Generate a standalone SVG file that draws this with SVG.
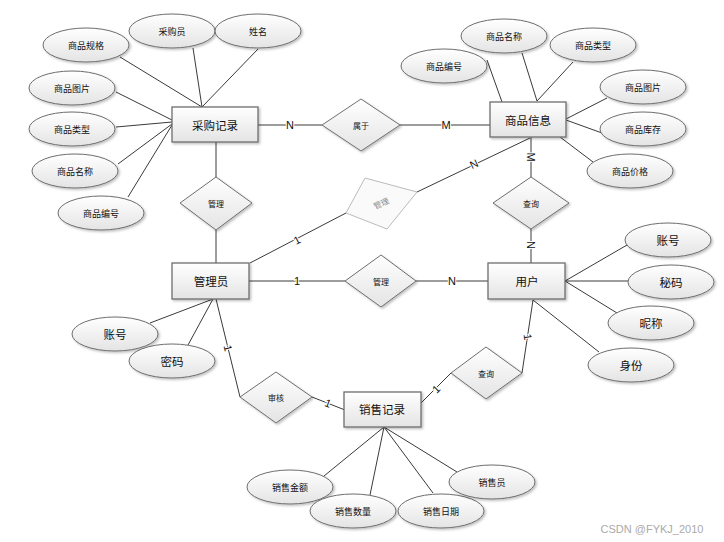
<svg xmlns="http://www.w3.org/2000/svg" width="724" height="542" viewBox="0 0 724 542">
<defs>
<linearGradient id="g" x1="0" y1="0" x2="0" y2="1"><stop offset="0" stop-color="#ffffff"/><stop offset="1" stop-color="#e4e4e4"/></linearGradient>
<filter id="sh" x="-10%" y="-10%" width="130%" height="140%"><feDropShadow dx="1.5" dy="1.5" stdDeviation="1" flood-color="#000" flood-opacity="0.25"/></filter>
</defs>
<style>
text{font-family:"Noto Sans CJK SC","Liberation Sans",sans-serif;fill:#111;text-anchor:middle;dominant-baseline:central}
.ent rect{fill:url(#g);stroke:#6e6e6e;stroke-width:1.3;filter:url(#sh)}
.ent text{font-size:11.5px}
.att ellipse{fill:url(#g);stroke:#6e6e6e;stroke-width:1;filter:url(#sh)}
.att text{font-size:9px}
.rel polygon{fill:url(#g);stroke:#6e6e6e;stroke-width:1;filter:url(#sh)}
.rel text{font-size:8px}
#conn line{stroke:#3a3a3a;stroke-width:1}
.lbl{font-size:11px;font-family:"Liberation Sans",sans-serif;paint-order:stroke;stroke:#fff;stroke-width:2}
.gray{stroke:#bbb!important;fill:#fafafa!important}
</style>
<rect width="724" height="542" fill="#fff"/>
<g id="conn">
<line x1="120" y1="57" x2="202" y2="107"/>
<line x1="193" y1="48" x2="202" y2="107"/>
<line x1="258" y1="49" x2="202" y2="107"/>
<line x1="116" y1="92" x2="172" y2="120"/>
<line x1="116" y1="127" x2="172" y2="122"/>
<line x1="118" y1="164" x2="172" y2="124"/>
<line x1="128" y1="197" x2="172" y2="125"/>
<line x1="258" y1="125" x2="322" y2="125"/>
<line x1="400" y1="125" x2="490" y2="125"/>
<line x1="216" y1="142" x2="216" y2="177"/>
<line x1="216" y1="230" x2="216" y2="263"/>
<line x1="487" y1="60" x2="502" y2="102"/>
<line x1="522" y1="53" x2="537" y2="101"/>
<line x1="573" y1="62" x2="537" y2="101"/>
<line x1="607" y1="98" x2="566" y2="119"/>
<line x1="566" y1="120" x2="602" y2="133" stroke-width="1.5"/>
<line x1="560" y1="137" x2="593" y2="162"/>
<line x1="531" y1="137" x2="531" y2="177"/>
<line x1="531" y1="229" x2="531" y2="263"/>
<line x1="250" y1="263" x2="346" y2="213"/>
<line x1="417" y1="192" x2="530" y2="138"/>
<line x1="249" y1="281" x2="345" y2="281"/>
<line x1="416" y1="281" x2="488" y2="281"/>
<line x1="150" y1="323" x2="213" y2="299"/>
<line x1="188" y1="345" x2="213" y2="299"/>
<line x1="216" y1="299" x2="240" y2="397"/>
<line x1="312" y1="397" x2="345" y2="410"/>
<line x1="421" y1="403" x2="451" y2="373"/>
<line x1="522" y1="373" x2="533" y2="300"/>
<line x1="565" y1="281" x2="627" y2="245"/>
<line x1="565" y1="281" x2="628" y2="281"/>
<line x1="565" y1="281" x2="617" y2="313"/>
<line x1="533" y1="300" x2="599" y2="352"/>
<line x1="384" y1="427" x2="324" y2="476"/>
<line x1="384" y1="427" x2="370" y2="495"/>
<line x1="384" y1="427" x2="433" y2="493"/>
<line x1="384" y1="427" x2="457" y2="472"/>
<text class="lbl" x="290" y="125">N</text>
<text class="lbl" x="446" y="125">M</text>
<text class="lbl" x="531" y="157" transform="rotate(90 531 157)">M</text>
<text class="lbl" x="531" y="245" transform="rotate(90 531 245)">N</text>
<text class="lbl" x="297" y="240" transform="rotate(-27 297 240)">1</text>
<text class="lbl" x="474" y="164" transform="rotate(-25 474 164)">N</text>
<text class="lbl" x="297" y="281">1</text>
<text class="lbl" x="452" y="281">N</text>
<text class="lbl" x="228" y="348" transform="rotate(76 228 348)">1</text>
<text class="lbl" x="328" y="403" transform="rotate(21 328 403)">1</text>
<text class="lbl" x="436" y="389" transform="rotate(-45 436 389)">1</text>
<text class="lbl" x="528" y="337" transform="rotate(81 528 337)">1</text>
</g>
<g id="n_caigoujilu" class="ent"><rect x="172" y="107" width="86" height="35"/><text x="215" y="125">采购记录</text></g>
<g id="n_shangpinxinxi" class="ent"><rect x="490" y="102" width="76" height="35"/><text x="528" y="120">商品信息</text></g>
<g id="n_guanliyuan" class="ent"><rect x="172" y="263" width="77" height="36"/><text x="211" y="281">管理员</text></g>
<g id="n_yonghu" class="ent"><rect x="488" y="263" width="77" height="36"/><text x="527" y="281">用户</text></g>
<g id="n_xiaoshoujilu" class="ent"><rect x="344" y="392" width="77" height="35"/><text x="382" y="409">销售记录</text></g>
<g id="a_cg_guige" class="att"><ellipse cx="86" cy="45" rx="43" ry="17"/><text x="86" y="45">商品规格</text></g>
<g id="a_cg_caigouyuan" class="att"><ellipse cx="172" cy="31" rx="43" ry="17"/><text x="172" y="31">采购员</text></g>
<g id="a_cg_xingming" class="att"><ellipse cx="258" cy="31" rx="43" ry="17"/><text x="258" y="31">姓名</text></g>
<g id="a_cg_tupian" class="att"><ellipse cx="72" cy="88" rx="43" ry="17"/><text x="72" y="88">商品图片</text></g>
<g id="a_cg_leixing" class="att"><ellipse cx="72" cy="129" rx="43" ry="17"/><text x="72" y="129">商品类型</text></g>
<g id="a_cg_mingcheng" class="att"><ellipse cx="75" cy="171" rx="43" ry="17"/><text x="75" y="171">商品名称</text></g>
<g id="a_cg_bianhao" class="att"><ellipse cx="101" cy="213" rx="43" ry="17"/><text x="101" y="213">商品编号</text></g>
<g id="a_sp_bianhao" class="att"><ellipse cx="444" cy="66" rx="43" ry="17"/><text x="444" y="66">商品编号</text></g>
<g id="a_sp_mingcheng" class="att"><ellipse cx="504" cy="36" rx="43" ry="17"/><text x="504" y="36">商品名称</text></g>
<g id="a_sp_leixing" class="att"><ellipse cx="593" cy="45" rx="43" ry="17"/><text x="593" y="45">商品类型</text></g>
<g id="a_sp_tupian" class="att"><ellipse cx="643" cy="87" rx="43" ry="17"/><text x="643" y="87">商品图片</text></g>
<g id="a_sp_kucun" class="att"><ellipse cx="643" cy="129" rx="43" ry="17"/><text x="643" y="129">商品库存</text></g>
<g id="a_sp_jiage" class="att"><ellipse cx="630" cy="171" rx="43" ry="17"/><text x="630" y="171">商品价格</text></g>
<g id="a_gly_zhanghao" class="att"><ellipse cx="115" cy="334" rx="43" ry="17"/><text x="115" y="334" style="font-size:11.5px">账号</text></g>
<g id="a_gly_mima" class="att"><ellipse cx="172" cy="361" rx="43" ry="17"/><text x="172" y="361" style="font-size:11.5px">密码</text></g>
<g id="a_yh_zhanghao" class="att"><ellipse cx="668" cy="240" rx="43" ry="17"/><text x="668" y="240" style="font-size:11.5px">账号</text></g>
<g id="a_yh_mima" class="att"><ellipse cx="671" cy="282" rx="43" ry="17"/><text x="671" y="282" style="font-size:11.5px">秘码</text></g>
<g id="a_yh_nicheng" class="att"><ellipse cx="651" cy="323" rx="43" ry="17"/><text x="651" y="323" style="font-size:11.5px">昵称</text></g>
<g id="a_yh_shenfen" class="att"><ellipse cx="631" cy="365" rx="43" ry="17"/><text x="631" y="365" style="font-size:11.5px">身份</text></g>
<g id="a_xs_jine" class="att"><ellipse cx="290" cy="487" rx="43" ry="17"/><text x="290" y="487">销售金额</text></g>
<g id="a_xs_shuliang" class="att"><ellipse cx="353" cy="511" rx="43" ry="17"/><text x="353" y="511">销售数量</text></g>
<g id="a_xs_riqi" class="att"><ellipse cx="441" cy="511" rx="43" ry="17"/><text x="441" y="511">销售日期</text></g>
<g id="a_xs_xiaoshouyuan" class="att"><ellipse cx="492" cy="482" rx="43" ry="17"/><text x="492" y="482">销售员</text></g>
<g id="r_guanli1" class="rel"><polygon points="216,177 252,203 216,230 180,203"/><text x="216" y="203">管理</text></g>
<g id="r_shuyu" class="rel"><polygon points="361,99 400,125 361,151 322,125"/><text x="361" y="125">属于</text></g>
<g id="r_chaxun1" class="rel"><polygon points="531,177 569,203 531,229 493,203"/><text x="531" y="203">查询</text></g>
<g id="r_guanli_gray" class="rel"><polygon class="gray" points="346,213 365,178 417,192 387,229" style="filter:none"/><text x="381" y="203" transform="rotate(-25 381 203)" style="fill:#888">管理</text></g>
<g id="r_guanli2" class="rel"><polygon points="381,255 416,281 381,307 345,281"/><text x="381" y="281">管理</text></g>
<g id="r_shenhe" class="rel"><polygon points="276,372 312,397 276,423 240,397"/><text x="276" y="397">审核</text></g>
<g id="r_chaxun2" class="rel"><polygon points="486,347 522,373 486,399 451,373"/><text x="486" y="373">查询</text></g>
<text x="652" y="529" style="font-size:11px;fill:#aaa;font-family:'Liberation Sans',sans-serif">CSDN @FYKJ_2010</text>
</svg>
